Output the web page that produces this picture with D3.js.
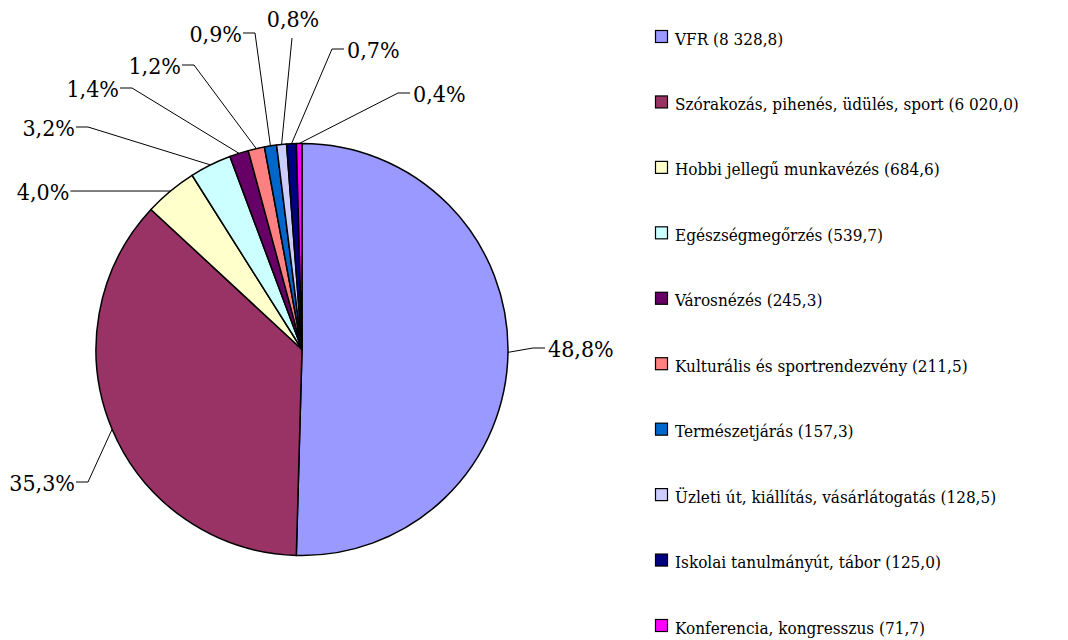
<!DOCTYPE html>
<html>
<head>
<meta charset="utf-8">
<script src="https://cdn.jsdelivr.net/npm/d3@7"></script>
<style>
  body { margin: 0; background: #fff; }
</style>
</head>
<body>
<div class="chart"></div>
<script>
// data
const categories = [
   "VFR",
   "Szórakozás, pihenés, üdülés, sport",
   "Hobbi jellegű munkavézés",
   "Egészségmegőrzés",
   "Városnézés",
   "Kulturális és sportrendezvény",
   "Természetjárás",
   "Üzleti út, kiállítás, vásárlátogatás",
   "Iskolai tanulmányút, tábor",
   "Konferencia, kongresszus"
];
const values = [8328.8, 6020.0, 684.6, 539.7, 245.3, 211.5, 157.3, 128.5, 125.0, 71.7];
const valueLabels = ["8 328,8", "6 020,0", "684,6", "539,7", "245,3", "211,5", "157,3", "128,5", "125,0", "71,7"];
const percentLabels = ["48,8%", "35,3%", "4,0%", "3,2%", "1,4%", "1,2%", "0,9%", "0,8%", "0,7%", "0,4%"];
const colors = ["#9999ff", "#993366", "#ffffcc", "#ccffff", "#660066", "#ff8080", "#0066cc", "#ccccff", "#000080", "#ff00ff"];

// label placement (knee point of leader line, side of text)
const labelLayout = [
   { kx: 533, ky: 348, side: "r" },
   { kx: 88, ky: 482, side: "l" },
   { kx: null, ky: null, side: "l" },
   { kx: 88, ky: 127, side: "l" },
   { kx: 132, ky: 88, side: "l" },
   { kx: 194, ky: 65, side: "l" },
   { kx: 255, ky: 33, side: "l" },
   { kx: 292, ky: 38, side: "u" },
   { kx: 332, ky: 49, side: "r" },
   { kx: 398, ky: 93, side: "r" }
];

// setup chart
const width = 1068;
const height = 640;
const cx = 302;
const cy = 349.5;
const radius = 206;
const font = "DejaVu Serif";

const svg = d3.select(".chart")
   .append("svg")
   .attr("width", width)
   .attr("height", height)
   .style("font-family", font)
   .style("font-stretch", "condensed");

const pie = d3.pie().sort(null).value((d) => d)(values);
const arc = d3.arc().innerRadius(0).outerRadius(radius);

const pieG = svg.append("g").attr("transform", `translate(${cx}, ${cy})`);
pieG.selectAll("path")
   .data(pie)
   .enter()
   .append("path")
   .attr("d", arc)
   .attr("fill", (d, i) => colors[i])
   .attr("stroke", "#000")
   .attr("stroke-width", 1.5)
   .attr("stroke-linejoin", "round");

// percent labels with leader lines
const labels = svg.append("g");
pie.forEach((d, i) => {
   const a = (d.startAngle + d.endAngle) / 2;
   const px = cx + radius * Math.sin(a);
   const py = cy - radius * Math.cos(a);
   const lay = labelLayout[i];
   const kx = lay.kx === null ? px : lay.kx;
   const ky = lay.ky === null ? py : lay.ky;
   let pts, tx, ty, anchor;
   if (lay.side === "r") {
      pts = [[px, py], [kx, ky], [kx + 12, ky]];
      tx = kx + 15; ty = ky + 9; anchor = "start";
   } else if (lay.side === "l") {
      const len = lay.kx === null ? 100 : 12;
      pts = [[px, py], [kx, ky], [kx - len, ky]];
      tx = kx - len - 1; ty = ky + 9; anchor = "end";
   } else {
      pts = [[px, py], [kx, ky]];
      tx = kx + 1; ty = ky - 11; anchor = "middle";
   }
   labels.append("path")
      .attr("d", d3.line()(pts))
      .attr("fill", "none")
      .attr("stroke", "#000")
      .attr("stroke-width", 1);
   labels.append("text")
      .attr("x", tx)
      .attr("y", ty)
      .attr("text-anchor", anchor)
      .attr("font-size", 23)
      .attr("fill", "#000")
      .text(percentLabels[i]);
});

// legend
const legendY = d3.scalePoint().domain(categories).range([36.5, 625.5]);
const legend = svg.append("g")
   .selectAll("g")
   .data(categories)
   .enter()
   .append("g")
   .attr("transform", (d) => `translate(655.5, ${legendY(d)})`);
legend.append("rect")
   .attr("x", 0)
   .attr("y", -6)
   .attr("width", 12)
   .attr("height", 12)
   .attr("fill", (d, i) => colors[i])
   .attr("stroke", "#000")
   .attr("stroke-width", 1.2);
legend.append("text")
   .attr("x", 19.5)
   .attr("y", 8)
   .attr("font-size", 17)
   .attr("fill", "#000")
   .text((d, i) => `${d} (${valueLabels[i]})`);
</script>
</body>
</html>
